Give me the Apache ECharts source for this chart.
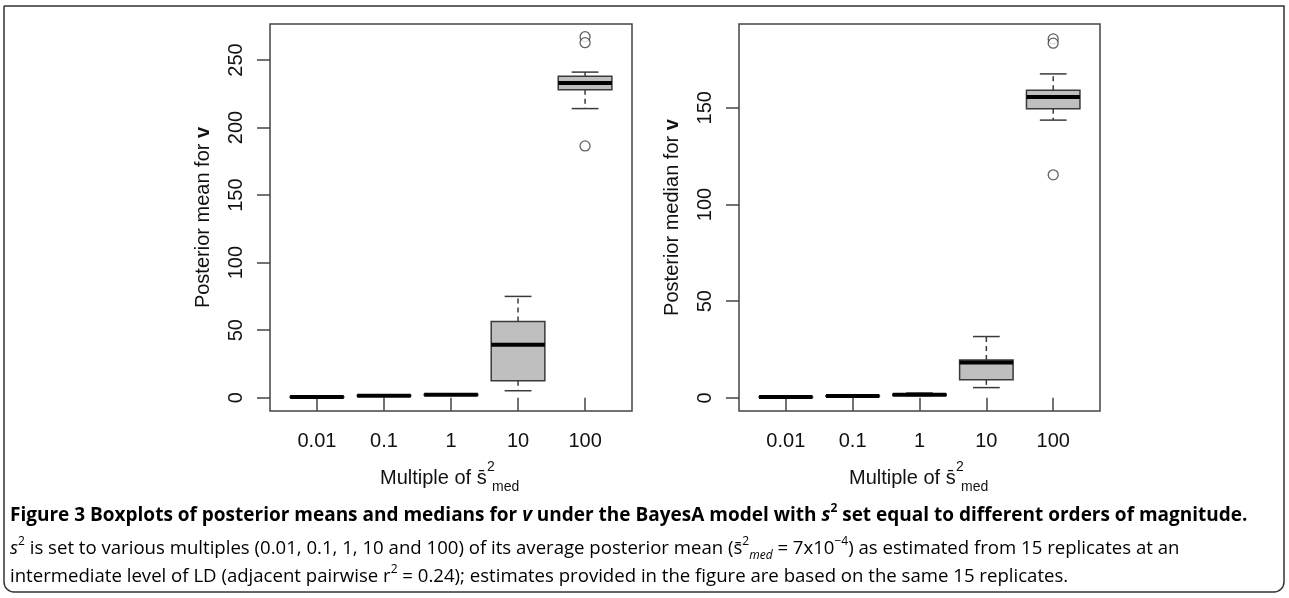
<!DOCTYPE html>
<html>
<head>
<meta charset="utf-8">
<script src="https://cdn.jsdelivr.net/npm/echarts@6/dist/echarts.min.js"></script>
<style>
  html, body { margin: 0; padding: 0; background: #fff; }
  #chart { width: 1289px; height: 598px; }
</style>
</head>
<body>
<div id="chart"></div>
<script>
// x categories (multiples of s2 med)
var categories = ['0.01', '0.1', '1', '10', '100'];
// box stats per category: [min, Q1, median, Q3, max]
var meanStats = [
    [0.3, 0.4, 0.5, 0.6, 0.8],
    [1.2, 1.4, 1.5, 1.6, 1.8],
    [1.9, 2.1, 2.2, 2.4, 2.6],
    [5.2, 12.6, 39.2, 56.4, 75],
    [214, 228, 233, 238, 241]
];
var meanOutliers = [[5, 267.2], [5, 262.8], [5, 186.4]];
var medianStats = [
    [0.2, 0.3, 0.4, 0.5, 0.6],
    [0.8, 0.9, 1.0, 1.1, 1.2],
    [1.2, 1.4, 1.6, 1.8, 2.5],
    [5.3, 9.3, 18.3, 19.6, 31.7],
    [143.6, 149.5, 155.5, 159, 167.5]
];
var medianOutliers = [[5, 185.6], [5, 183.4], [5, 115.3]];
var meanTicks = [0, 50, 100, 150, 200, 250];
var medianTicks = [0, 50, 100, 150];

var chart = echarts.init(document.getElementById('chart'));

function toRows(stats) {
    return stats.map(function (s, i) { return [i + 1].concat(s); });
}

function renderBox(params, api) {
    var x = api.value(0);
    var lo = api.coord([x, api.value(1)]);
    var q1 = api.coord([x, api.value(2)]);
    var md = api.coord([x, api.value(3)]);
    var q3 = api.coord([x, api.value(4)]);
    var hi = api.coord([x, api.value(5)]);
    var cx = lo[0];
    var half = api.size([0.4, 0])[0];
    var cap = half / 2;
    var edge = '#3a3a3a';
    return {
        type: 'group',
        children: [
            { type: 'line', shape: { x1: cx, y1: q3[1], x2: cx, y2: hi[1] },
              style: { stroke: edge, lineWidth: 1.5, lineDash: [5, 4] } },
            { type: 'line', shape: { x1: cx, y1: q1[1], x2: cx, y2: lo[1] },
              style: { stroke: edge, lineWidth: 1.5, lineDash: [5, 4] } },
            { type: 'line', shape: { x1: cx - cap, y1: hi[1], x2: cx + cap, y2: hi[1] },
              style: { stroke: edge, lineWidth: 1.5 } },
            { type: 'line', shape: { x1: cx - cap, y1: lo[1], x2: cx + cap, y2: lo[1] },
              style: { stroke: edge, lineWidth: 1.5 } },
            { type: 'rect', shape: { x: cx - half, y: q3[1], width: half * 2, height: q1[1] - q3[1] },
              style: { fill: '#bfbfbf', stroke: edge, lineWidth: 1.5 } },
            { type: 'line', shape: { x1: cx - half, y1: md[1], x2: cx + half, y2: md[1] },
              style: { stroke: '#000', lineWidth: 4 } }
        ]
    };
}

function xAxisFor(idx) {
    return {
        type: 'value', gridIndex: idx, min: 0.3, max: 5.7,
        axisLine: { show: false },
        splitLine: { show: false },
        axisTick: { customValues: [1, 2, 3, 4, 5], length: 13, lineStyle: { color: '#444', width: 1.5 } },
        axisLabel: {
            customValues: [1, 2, 3, 4, 5], margin: 20,
            fontSize: 20, color: '#111', fontFamily: 'Liberation Sans',
            formatter: function (v) { return categories[v - 1]; }
        }
    };
}

function yAxisFor(idx, min, max, ticks, name) {
    return {
        type: 'value', gridIndex: idx, min: min, max: max,
        name: name, nameLocation: 'middle', nameGap: 57, nameRotate: 90,
        nameTextStyle: {
            fontSize: 20, color: '#111', fontFamily: 'Liberation Sans',
            rich: { b: { fontSize: 20, fontWeight: 'bold', color: '#111', fontFamily: 'Liberation Sans' } }
        },
        axisLine: { show: false },
        splitLine: { show: false },
        axisTick: { customValues: ticks, length: 13, lineStyle: { color: '#444', width: 1.5 } },
        axisLabel: {
            customValues: ticks, rotate: 90, margin: 24,
            fontSize: 20, color: '#111', fontFamily: 'Liberation Sans'
        }
    };
}

function xTitle(cx) {
    var x0 = cx - 71;
    var font = 'Liberation Sans';
    return [
        { type: 'text', left: x0, top: 468,
          style: { text: 'Multiple of s\u0304', font: '20px "' + font + '"', fill: '#111' } },
        { type: 'text', left: x0 + 107, top: 460,
          style: { text: '2', font: '14px "' + font + '"', fill: '#111' } },
        { type: 'text', left: x0 + 112, top: 480,
          style: { text: 'med', font: '14px "' + font + '"', fill: '#111' } }
    ];
}

var capFont = 'Open Sans';
var capRich = {
    b: { fontFamily: capFont, fontSize: 19, fontWeight: 'bold', color: '#222', lineHeight: 26 },
    bi: { fontFamily: capFont, fontSize: 19, fontWeight: 'bold', fontStyle: 'italic', color: '#222', lineHeight: 26 },
    bsup: { fontFamily: capFont, fontSize: 12, fontWeight: 'bold', color: '#222', lineHeight: 13, verticalAlign: 'top' },
    n: { fontFamily: capFont, fontSize: 18.6, color: '#444', lineHeight: 26 },
    i: { fontFamily: capFont, fontSize: 18.6, fontStyle: 'italic', color: '#444', lineHeight: 26 },
    sup: { fontFamily: capFont, fontSize: 12, color: '#444', lineHeight: 13, verticalAlign: 'top' },
    isub: { fontFamily: capFont, fontSize: 12, fontStyle: 'italic', color: '#444', lineHeight: 11, verticalAlign: 'bottom' }
};

var option = {
    animation: false,
    backgroundColor: '#fff',
    grid: [
        { left: 270, top: 24, width: 362, height: 387, show: true, borderColor: '#444', borderWidth: 1.5, outerBoundsMode: 'none' },
        { left: 739, top: 24, width: 361, height: 387, show: true, borderColor: '#444', borderWidth: 1.5, outerBoundsMode: 'none' }
    ],
    xAxis: [xAxisFor(0), xAxisFor(1)],
    yAxis: [
        yAxisFor(0, -9.8, 276.6, meanTicks, 'Posterior mean for {b|v}'),
        yAxisFor(1, -6.8, 193.3, medianTicks, 'Posterior median for {b|v}')
    ],
    series: [
        { type: 'custom', xAxisIndex: 0, yAxisIndex: 0, renderItem: renderBox,
          encode: { x: 0, y: [1, 2, 3, 4, 5] }, data: toRows(meanStats) },
        { type: 'scatter', xAxisIndex: 0, yAxisIndex: 0, symbol: 'circle', symbolSize: 10,
          itemStyle: { color: '#fff', borderColor: '#3a3a3a', borderWidth: 1.3 }, data: meanOutliers },
        { type: 'custom', xAxisIndex: 1, yAxisIndex: 1, renderItem: renderBox,
          encode: { x: 0, y: [1, 2, 3, 4, 5] }, data: toRows(medianStats) },
        { type: 'scatter', xAxisIndex: 1, yAxisIndex: 1, symbol: 'circle', symbolSize: 10,
          itemStyle: { color: '#fff', borderColor: '#3a3a3a', borderWidth: 1.3 }, data: medianOutliers }
    ],
    graphic: [
        { type: 'rect', shape: { x: 4, y: 6, width: 1280, height: 586, r: [0, 0, 10, 10] },
          style: { fill: 'none', stroke: '#333', lineWidth: 1.5 }, silent: true }
    ].concat(xTitle(451), xTitle(920), [
        { type: 'text', left: 10, top: 503,
          style: { text: '{b|Figure 3 Boxplots of posterior means and medians for }{bi|v}{b| under the BayesA model with }{bi|s}{bsup|2}{b| set equal to different orders of magnitude.}', rich: capRich } },
        { type: 'text', left: 10, top: 536,
          style: { text: '{i|s}{sup|2}{n| is set to various multiples (0.01, 0.1, 1, 10 and 100) of its average posterior mean (s\u0304}{sup|2}{isub|med}{n| = 7x10}{sup|\u22124}{n|) as estimated from 15 replicates at an}', rich: capRich } },
        { type: 'text', left: 10, top: 564,
          style: { text: '{n|intermediate level of LD (adjacent pairwise r}{sup|2}{n| = 0.24); estimates provided in the figure are based on the same 15 replicates.}', rich: capRich } }
    ])
};
chart.setOption(option);
</script>
</body>
</html>
